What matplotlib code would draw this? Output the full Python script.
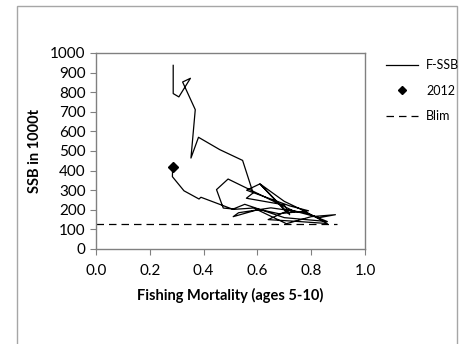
import matplotlib.pyplot as plt
from matplotlib.lines import Line2D
from matplotlib.patches import Rectangle

plt.rcParams['font.family'] = ['Lato', 'DejaVu Sans']

# --- F-SSB trajectory (old -> 2012) ---
f_mort = [0.287, 0.287, 0.308, 0.351, 0.322, 0.369, 0.353, 0.381, 0.460, 0.545,
          0.584, 0.559, 0.700, 0.720, 0.610, 0.700, 0.770, 0.860, 0.745, 0.640,
          0.720, 0.830, 0.890, 0.800, 0.708, 0.600, 0.510, 0.530, 0.650, 0.780,
          0.860, 0.700, 0.553, 0.510, 0.473, 0.448, 0.491, 0.740, 0.700, 0.609,
          0.560, 0.720, 0.790, 0.680, 0.584, 0.510, 0.390, 0.383, 0.327, 0.284,
          0.285]
ssb = [937, 793, 776, 871, 852, 711, 464, 570, 507, 452,
       286, 259, 225, 175, 332, 243, 197, 130, 141, 150,
       200, 160, 175, 165, 129, 200, 165, 185, 210, 185,
       140, 160, 228, 204, 209, 303, 357, 190, 200, 332,
       300, 220, 195, 180, 209, 202, 264, 255, 297, 369,
       420]

f_2012 = [0.285]
ssb_2012 = [420]

blim = 126
blim_f = [0.0, 0.895]

dash = (0, (6, 4))

fig = plt.figure(figsize=(4.65, 3.44), dpi=100)

# outer chart border
fig.patches.append(Rectangle((17 / 465, -0.2), 440 / 465, 1.2 - 6 / 344,
                             transform=fig.transFigure, fill=False,
                             edgecolor='#a6a6a6', linewidth=1.0))

ax = fig.add_axes([96 / 465, 1 - 249 / 344, 269 / 465, 196 / 344])

ax.plot(f_mort, ssb, color='black', linewidth=0.9)
ax.plot(f_2012, ssb_2012, linestyle='none', marker='D', markersize=5.5,
        color='black')
ax.plot(blim_f, [blim, blim], color='black', linestyle=dash, linewidth=0.9)

ax.set_xlim(0, 1.0)
ax.set_ylim(0, 1000)
ax.set_xticks([0.0, 0.2, 0.4, 0.6, 0.8, 1.0])
ax.set_xticklabels(['0.0', '0.2', '0.4', '0.6', '0.8', '1.0'])
ax.set_yticks(range(0, 1001, 100))
ax.tick_params(axis='both', direction='out', length=4, width=0.8,
               color='#808080', labelsize=11, labelcolor='black')
ax.tick_params(axis='x', pad=7)
for s in ax.spines.values():
    s.set_color('#808080')
    s.set_linewidth(1.0)

ax.set_xlabel('Fishing Mortality (ages 5-10)', fontsize=10.5, fontweight='bold',
              labelpad=7)
ax.set_ylabel('SSB in 1000t', fontsize=10.5, fontweight='bold', labelpad=6)

handles = [Line2D([], [], color='black', linewidth=0.9),
           Line2D([], [], linestyle='none', marker='D', markersize=4.5,
                  color='black'),
           Line2D([], [], color='black', linewidth=0.9, linestyle=dash)]
fig.legend(handles, ['F-SSB', '2012', 'Blim'], loc='upper left',
           bbox_to_anchor=(386 / 465, 1 - 59 / 344), frameon=False,
           borderpad=0, borderaxespad=0,
           fontsize=9, handlelength=2.55, handletextpad=0.65, labelspacing=1.1)

fig.savefig('out.png', dpi=100)
